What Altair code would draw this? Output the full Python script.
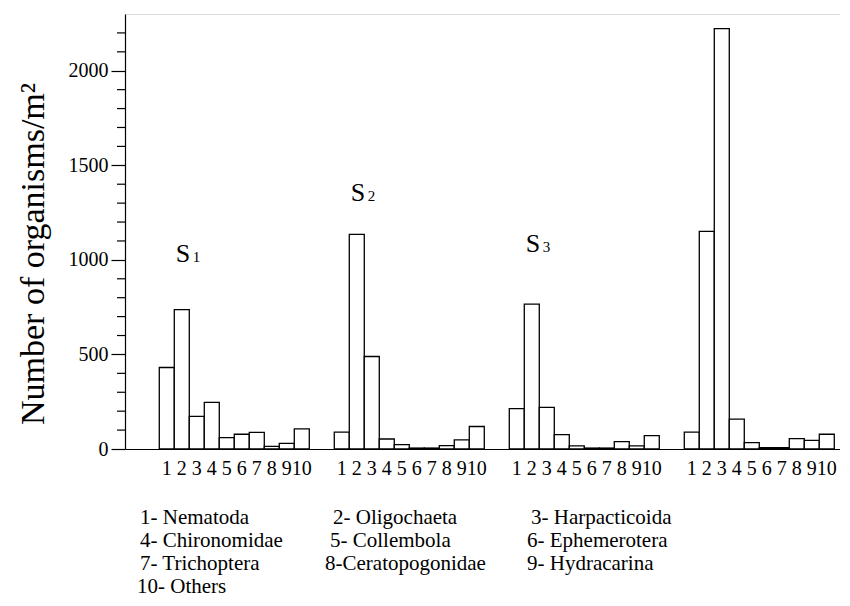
import altair as alt
import pandas as pd

# ---- data ----
groups = ["S1", "S2", "S3", "S4"]
categories = [1, 2, 3, 4, 5, 6, 7, 8, 9, 10]
s1 = [431, 737, 173, 246, 60, 78, 88, 14, 30, 106]
s2 = [89, 1135, 489, 53, 23, 5, 5, 18, 48, 119]
s3 = [213, 766, 220, 76, 16, 5, 5, 39, 16, 71]
s4 = [89, 1151, 2223, 158, 34, 7, 7, 55, 46, 78]
major_ticks = [0, 500, 1000, 1500, 2000]
minor_ticks = [100, 200, 300, 400, 600, 700, 800, 900, 1100, 1200, 1300, 1400,
               1600, 1700, 1800, 1900, 2100, 2200]
group_labels = ["S", "S", "S"]
group_subs = ["1", "2", "3"]
legend_labels = ["1- Nematoda", "2- Oligochaeta", "3- Harpacticoida",
                 "4- Chironomidae", "5- Collembola", "6- Ephemerotera",
                 "7- Trichoptera", "8-Ceratopogonidae", "9- Hydracarina",
                 "10- Others"]
y_title = "Number of organisms/m\u00b2"

series = [s1, s2, s3, s4]
rows = []
for g, vals in zip(groups, series):
    for c, v in zip(categories, vals):
        rows.append({"group": g, "cat": c, "value": v})
df = pd.DataFrame(rows)

SERIF = "Liberation Serif, Times New Roman, serif"
W, H = 715, 435

xscale = alt.Scale(domain=groups, paddingInner=0.142857, paddingOuter=0.1143, align=0.857)
xenc = alt.X("group:N", scale=xscale,
             axis=alt.Axis(labels=False, ticks=False, title=None, domainColor="black",
                           domainWidth=1.2, grid=False))
xoff = alt.XOffset("cat:O", scale=alt.Scale(paddingInner=0, paddingOuter=0))
yscale = alt.Scale(domain=[0, 2300], nice=False)
yaxis = alt.Axis(values=major_ticks, format="d", title=y_title, grid=False,
                 tickSize=14, tickColor="black", tickWidth=1.2,
                 domainColor="black", domainWidth=1.2,
                 labelFont=SERIF, labelFontSize=20, labelColor="black",
                 labelPadding=3,
                 titleFont=SERIF, titleFontSize=34, titleFontWeight="normal",
                 titleColor="black", titleX=-82, titleY=H / 2 + 22,
                 titleAngle=270, titleAlign="center",
                 titleBaseline="alphabetic")
yenc = alt.Y("value:Q", scale=yscale, axis=yaxis)

bars = alt.Chart(df).mark_bar(fill="white", stroke="black", strokeWidth=1.3).encode(
    x=xenc, xOffset=xoff, y=yenc
)

cat_text = alt.Chart(df).mark_text(font=SERIF, fontSize=20, color="black",
                                   baseline="alphabetic").encode(
    x=xenc, xOffset=xoff, y=alt.value(H + 26), text="cat:O"
)

minor = alt.Chart(pd.DataFrame({"value": minor_ticks})).mark_rule(
    color="black", strokeWidth=1.2).encode(
    y=yenc, x=alt.value(-8), x2=alt.value(0)
)

layers = [bars, cat_text, minor]

# group labels S1, S2, S3 (anchored to bar 2 of each group)
label_y = [248, 187, 238]
for g, s, sub, ly in zip(groups[:3], group_labels, group_subs, label_y):
    d = pd.DataFrame({"group": [g], "cat": [2], "s": [s], "sub": [sub]})
    layers.append(alt.Chart(d).mark_text(font=SERIF, fontSize=26, color="black",
                                         align="left", baseline="alphabetic", dx=-6).encode(
        x=xenc, xOffset=xoff, y=alt.value(ly), text="s:N"))
    layers.append(alt.Chart(d).mark_text(font=SERIF, fontSize=15, color="black",
                                         align="left", baseline="alphabetic", dx=11).encode(
        x=xenc, xOffset=xoff, y=alt.value(ly), text="sub:N"))

# legend text block below the chart
col_x = [[15, 208, 406], [15, 205, 402], [15, 200, 402], [12]]
row_y = [510, 533, 556, 579]
k = 0
for r, xs in enumerate(col_x):
    for cx in xs:
        d = pd.DataFrame({"t": [legend_labels[k]]})
        layers.append(alt.Chart(d).mark_text(font=SERIF, fontSize=21, color="black",
                                             align="left", baseline="alphabetic").encode(
            x=alt.value(cx), y=alt.value(row_y[r]), text="t:N"))
        k += 1

chart = alt.layer(*layers).properties(
    width=W, height=H,
    autosize=alt.AutoSizeParams(type="none"),
    padding={"left": 117, "top": 6, "right": 0, "bottom": 149},
).configure_view(stroke=None).configure(background="white", font=SERIF)

chart.save("out.html", embed_options={"renderer": "svg", "actions": False})
